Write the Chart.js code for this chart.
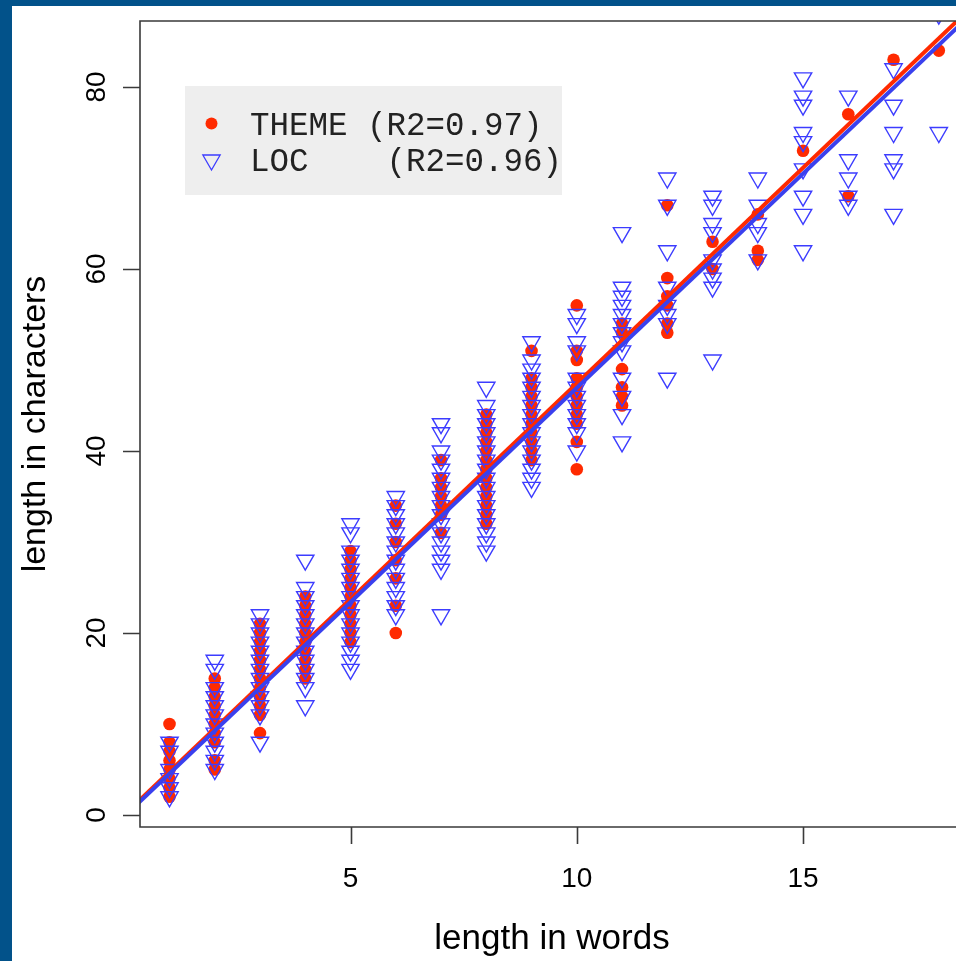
<!DOCTYPE html>
<html><head><meta charset="utf-8">
<script src="https://cdn.jsdelivr.net/npm/chart.js@4.4.1/dist/chart.umd.min.js"></script>
<style>html,body{margin:0;padding:0;background:#fff;overflow:hidden}canvas{display:block}</style>
</head><body>
<canvas id="c" width="956" height="961"></canvas>
<script>
// ---- data ----
const wordCounts = [1,2,3,4,5,6,7,8,9,10,11,12,13,14,15,16,17,18];
const themeChars = [
  [10,8,7,6,5,4,3,2],
  [15,14,13,12,11,10,9,8,6,5],
  [21,20,19,18,17,16,15,14,13,12,11,9],
  [24,23,22,21,20,19,18,17,16,15],
  [29,28,27,26,25,24,23,22,21,20,19],
  [34,32,30,28,26,23,20],
  [39,37,36,35,34,33,31],
  [44,43,42,41,40,39,38,37,36,35,34,33,32],
  [51,48,47,46,45,44,43,42,41,40,39],
  [56,51,50,48,47,46,45,44,43,41,38],
  [54,53,49,47,46,45],
  [67,59,57,56,54,53],
  [63,60],
  [66,62,61],
  [73],
  [77,68],
  [83],
  [84]
];
const locChars = [
  [8,7,5,4,3,2],
  [17,16,14,13,12,11,10,9,8,7,6,5],
  [22,21,20,19,18,17,16,15,14,13,12,11,8],
  [28,25,24,23,22,21,20,19,18,17,16,15,14,12],
  [32,31,29,28,27,26,25,24,23,22,21,20,19,18,17,16],
  [35,34,33,32,31,30,29,28,27,26,25,24,23,22],
  [43,42,40,39,38,37,36,35,34,33,32,31,30,29,28,27,22],
  [47,45,44,43,42,41,40,39,38,37,36,35,34,33,32,31,30,29],
  [52,50,49,48,47,46,45,44,43,42,41,40,39,38,37,36],
  [55,54,52,51,48,47,46,45,44,43,42,40],
  [64,58,57,56,55,54,53,52,51,48,46,44,41],
  [70,67,62,58,56,55,54,48],
  [68,67,65,64,61,60,59,58,50],
  [70,67,65,64,61],
  [81,79,78,75,74,71,68,66,62],
  [79,72,70,68,67],
  [82,78,75,72,71,66],
  [88,75]
];
const fitWords = [0, 19];
const themeFit = [0.02, 90.08];
const locFit = [-0.17, 89.32];
const xTicks = [5, 10, 15];
const yTicks = [0, 20, 40, 60, 80];
const legendLabels = ['THEME (R2=0.97)', 'LOC    (R2=0.96)'];
const xTitle = 'length in words';
const yTitle = 'length in characters';

const RED = '#ff2a00', BLUE = '#3c3cff', BLUE_LINE = '#3a40ee';
const AXIS = '#3a3a3a';

function toPoints(groups){ const p=[]; groups.forEach((g,i)=>g.forEach(v=>p.push({x:wordCounts[i],y:v}))); return p; }
function linePoints(ys){ return fitWords.map((x,i)=>({x:x,y:ys[i]})); }

const decor = {
  id:'decor',
  beforeDraw(chart){
    const ctx=chart.ctx;
    ctx.save();
    ctx.fillStyle='#fff'; ctx.fillRect(0,0,chart.width,chart.height);
    ctx.fillStyle='#02528a';
    ctx.fillRect(0,0,12,chart.height);
    ctx.fillRect(0,0,chart.width,6);
    ctx.restore();
  },
  afterDraw(chart){
    const ctx=chart.ctx, a=chart.chartArea, xs=chart.scales.x, ys=chart.scales.y;
    ctx.save();
    // box
    ctx.strokeStyle=AXIS; ctx.lineWidth=1.6;
    ctx.beginPath();
    ctx.moveTo(a.right+5,a.top); ctx.lineTo(a.left,a.top); ctx.lineTo(a.left,a.bottom); ctx.lineTo(a.right+5,a.bottom);
    ctx.stroke();
    // ticks
    ctx.beginPath();
    xTicks.forEach(v=>{const px=Math.round(xs.getPixelForValue(v))+0.5; ctx.moveTo(px,a.bottom); ctx.lineTo(px,a.bottom+17);});
    yTicks.forEach(v=>{const py=Math.round(ys.getPixelForValue(v))+0.5; ctx.moveTo(a.left,py); ctx.lineTo(a.left-17,py);});
    ctx.stroke();
    // tick labels
    ctx.fillStyle='#000';
    ctx.font='28px "Liberation Sans", Arial, sans-serif';
    ctx.textAlign='center'; ctx.textBaseline='middle';
    xTicks.forEach(v=>ctx.fillText(String(v), xs.getPixelForValue(v), 879));
    yTicks.forEach(v=>{ctx.save(); ctx.translate(97, ys.getPixelForValue(v)); ctx.rotate(-Math.PI/2); ctx.fillText(String(v),0,0); ctx.restore();});
    // titles
    ctx.font='35px "Liberation Sans", Arial, sans-serif';
    ctx.fillText(xTitle, 552, 939);
    ctx.font='34px "Liberation Sans", Arial, sans-serif';
    ctx.save(); ctx.translate(36, 424); ctx.rotate(-Math.PI/2); ctx.fillText(yTitle,0,0); ctx.restore();
    // legend
    ctx.fillStyle='#eeeeee'; ctx.fillRect(185,86,377,109);
    ctx.fillStyle=RED; ctx.beginPath(); ctx.arc(211.5,123.5,6,0,Math.PI*2); ctx.fill();
    ctx.strokeStyle=BLUE; ctx.lineWidth=1.3;
    const r=10, cx=211.5, cy=160;
    ctx.beginPath();
    ctx.moveTo(cx, cy+r); ctx.lineTo(cx+r*Math.sin(Math.PI/3), cy-r/2); ctx.lineTo(cx-r*Math.sin(Math.PI/3), cy-r/2); ctx.closePath(); ctx.stroke();
    ctx.fillStyle='#222';
    ctx.font='32.5px "Liberation Mono", "Courier New", monospace';
    ctx.textAlign='left'; ctx.textBaseline='alphabetic';
    ctx.fillText(legendLabels[0], 250, 135);
    ctx.fillText(legendLabels[1], 250, 171);
    ctx.restore();
  }
};

new Chart(document.getElementById('c'), {
  type:'scatter',
  data:{ datasets:[
    { label:'LOC fit', type:'line', data:linePoints(locFit), borderColor:BLUE_LINE, borderWidth:4, pointRadius:0, showLine:true, fill:false, order:0, clip:0 },
    { label:'THEME fit', type:'line', data:linePoints(themeFit), borderColor:RED, borderWidth:4, pointRadius:0, showLine:true, fill:false, order:1, clip:0 },
    { label:'LOC', data:toPoints(locChars), pointStyle:'triangle', rotation:180, radius:10, backgroundColor:'rgba(0,0,0,0)', borderColor:BLUE, borderWidth:1.4, order:2, clip:0 },
    { label:'THEME', data:toPoints(themeChars), pointStyle:'circle', radius:6.3, backgroundColor:RED, borderColor:RED, borderWidth:0, order:3, clip:0 }
  ]},
  options:{
    responsive:false, animation:false, devicePixelRatio:1,
    layout:{ autoPadding:false, padding:{ left:0, top:21, right:0, bottom:0 } },
    plugins:{ legend:{display:false}, tooltip:{enabled:false} },
    elements:{ point:{ hoverRadius:0 } },
    scales:{
      x:{ type:'linear', min:0.348, max:18.38, grid:{display:false}, border:{display:false}, ticks:{display:false},
          afterFit(s){ s.height = 134; } },
      y:{ type:'linear', min:-1.32, max:87.25, grid:{display:false}, border:{display:false}, ticks:{display:false},
          afterFit(s){ s.width = 140; } }
    }
  },
  plugins:[decor]
});
</script>
</body></html>
